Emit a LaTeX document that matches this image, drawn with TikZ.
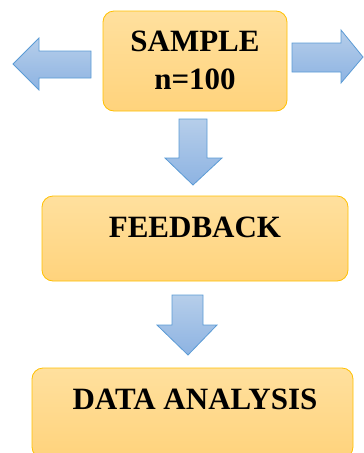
\documentclass[tikz,border=0pt]{standalone}
\usepackage{fontspec}
\setmainfont{Liberation Serif}
\usetikzlibrary{positioning}
\definecolor{boxtop}{RGB}{255,224,158}
\definecolor{boxbot}{RGB}{255,211,124}
\definecolor{boxline}{RGB}{255,192,0}
\definecolor{arrtop}{RGB}{182,206,234}
\definecolor{arrbot}{RGB}{141,179,226}
\definecolor{arrline}{RGB}{91,155,213}
\tikzset{
  stagebox/.style={draw=boxline, line width=0.8pt, rounded corners=11pt, top color=boxtop, bottom color=boxbot, inner sep=0pt},
  stagetext/.style={font=\fontsize{31}{38}\selectfont\bfseries, inner sep=0pt, align=center},
  blockarrow/.style={draw=arrline, line width=0.8pt, line join=miter, top color=arrtop, bottom color=arrbot}
}
\begin{document}
\begin{tikzpicture}[x=1pt,y=1pt,yscale=-1,xscale=1]
    \useasboundingbox (0,0) rectangle (364,453);
    \clip (0,0) rectangle (364,453);

    %Boxes
    \node [stagebox, minimum width=184, minimum height=100] (sample) at (195,61) {};
    \node [stagebox, minimum width=306, minimum height=85] (feedback) at (195,238.5) {};
    \node [stagebox, minimum width=321, minimum height=90] (analysis) at (192.5,413) {};

    %Left Arrow
    \draw [blockarrow] (91,51) -- (39,51) -- (39,38) -- (13,64) -- (39,90) -- (39,78) -- (91,78) -- cycle ;
    %Right Arrow
    \draw [blockarrow] (292,43) -- (341,43) -- (341,30) -- (363,57) -- (341,83) -- (341,72) -- (292,72) -- cycle ;
    %Down Arrow 1
    \draw [blockarrow] (179,119) -- (207,119) -- (207,158) -- (222,158) -- (193,185) -- (165,158) -- (179,158) -- cycle ;
    %Down Arrow 2
    \draw [blockarrow] (172,295) -- (203,295) -- (203,325) -- (217,325) -- (188,355) -- (157,325) -- (172,325) -- cycle ;

    % Text Node
    \node [stagetext] (sampletext) at (195,60) {SAMPLE\\n=100};
    % Text Node
    \node [stagetext, anchor=base] (feedbacktext) at (195,237.5) {FEEDBACK};
    % Text Node
    \node [stagetext, anchor=base] (analysistext) at (195,409.5) {DATA ANALYSIS};
\end{tikzpicture}
\end{document}
